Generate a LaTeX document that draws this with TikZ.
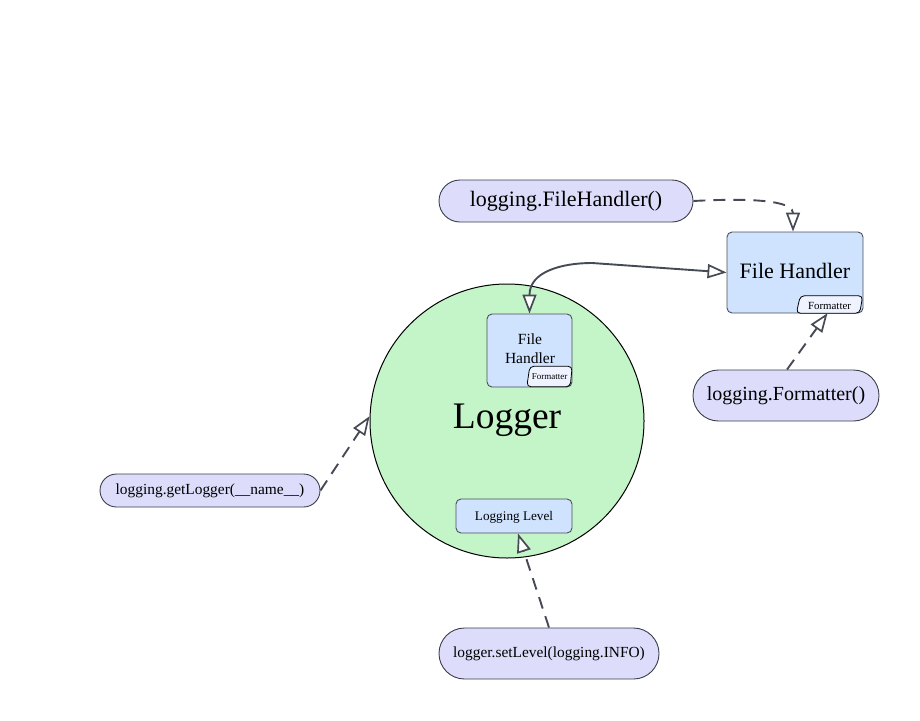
\documentclass[tikz,border=0pt]{standalone}
\usepackage{fontspec}
\setmainfont{Liberation Serif}
\usetikzlibrary{arrows.meta,shapes.misc,calc}
\definecolor{pillfill}{HTML}{DDDDFB}
\definecolor{pillline}{HTML}{3A3F4A}
\definecolor{boxfill}{HTML}{CFE3FF}
\definecolor{boxline}{HTML}{4A4F58}
\definecolor{circfill}{HTML}{C4F5C8}
\definecolor{tabfill}{HTML}{EEF3FF}
\definecolor{arrowcol}{HTML}{454A54}
\begin{document}
\begin{tikzpicture}[x=1pt,y=-1pt,
  pill/.style={rounded rectangle, draw=pillline, fill=pillfill, line width=0.9pt, inner sep=0pt},
  handlerbox/.style={rectangle, rounded corners=5pt, draw=boxline, fill=boxfill, line width=0.9pt, inner sep=0pt},
  tabbox/.style={rectangle, inner sep=0pt},
  tabshape/.style={draw=black, fill=tabfill, line width=0.8pt, rounded corners=4pt},
  opentip/.style={-{Triangle[length=19pt,width=14pt,fill=white,line width=1.7pt]}},
  bothtips/.style={{Triangle[length=19pt,width=14pt,fill=white,line width=1.7pt]}-{Triangle[length=19pt,width=14pt,fill=white,line width=1.7pt]}},
  conn/.style={draw=arrowcol, line width=1.9pt},
  dashconn/.style={conn, dash pattern=on 12pt off 8pt},
]
\useasboundingbox (0,0) rectangle (920,720);

% Logger circle
\node[circle, draw=black, fill=circfill, line width=1pt, minimum size=274pt, inner sep=0pt,
      font=\fontsize{37.5}{40}\selectfont] (logger) at (507,421) {\raisebox{1pt}[\height][\depth]{Logger}};

% inner file handler
\node[handlerbox, minimum width=85pt, minimum height=73pt] (innerfh) at (529.5,350.5) {};
\node[align=center, font=\fontsize{15.5}{19}\selectfont, inner sep=0pt] (innerfhtext) at (530,349) {File\\Handler};
\node[tabbox, minimum width=45pt, minimum height=20pt] (innerfmt) at (549.5,376.5) {};
\draw[tabshape] (innerfmt.south west) -- ($(innerfmt.north west)+(3,0)$) -- (innerfmt.north east) -- ($(innerfmt.south east)+(-2,0)$) -- cycle;
\node[font=\fontsize{9}{10}\selectfont, inner sep=0pt] (innerfmttext) at (549.5,377) {Formatter};

% logging level
\node[handlerbox, minimum width=116pt, minimum height=34pt, font=\fontsize{13.2}{15}\selectfont] (level) at (514,516) {\raisebox{-1.5pt}[\height][\depth]{Logging Level}};

% big file handler
\node[handlerbox, minimum width=136pt, minimum height=81pt, font=\fontsize{22}{26}\selectfont] (bigfh) at (795,272.5) {\raisebox{2pt}[\height][\depth]{File Handler}};
\node[tabbox, minimum width=66pt, minimum height=17pt] (bigfmt) at (829.5,304.5) {};
\draw[tabshape] (bigfmt.south west) -- ($(bigfmt.north west)+(4,0)$) -- (bigfmt.north east) -- ($(bigfmt.south east)+(-3,0)$) -- cycle;
\node[font=\fontsize{10.9}{12}\selectfont, inner sep=0pt] (bigfmttext) at (829.5,306) {Formatter};

% pills
\node[pill, minimum width=254pt, minimum height=42pt, font=\fontsize{22}{26}\selectfont] (fhcall) at (566,201) {logging.FileHandler()};
\node[pill, minimum width=186pt, minimum height=51pt, font=\fontsize{20}{24}\selectfont] (fmtcall) at (786,395.5) {logging.Formatter()};
\node[pill, minimum width=220pt, minimum height=33pt, font=\fontsize{15.4}{18}\selectfont] (getlogger) at (210,490.5) {logging.getLogger(\_\_name\_\_)};
\node[pill, minimum width=220pt, minimum height=51pt, font=\fontsize{15.4}{18}\selectfont] (setlevel) at (549,653.5) {logger.setLevel(logging.INFO)};

% connectors
\draw[dashconn, opentip] (fhcall.east) .. controls +(75,-4) and +(0,-28) .. ([xshift=-2pt]bigfh.north);
\draw[conn, bothtips] (innerfh.north) .. controls +(0,-42) and +(-30,0) .. (592,263) -- (bigfh.west);
\draw[dashconn, opentip] ([xshift=1pt]fmtcall.north) -- ([xshift=-2pt]bigfmt.south);
\draw[dashconn, opentip] (getlogger.east) -- (logger.178);
\draw[dashconn, opentip] (setlevel.north) -- ([xshift=4pt]level.south);
\end{tikzpicture}
\end{document}
